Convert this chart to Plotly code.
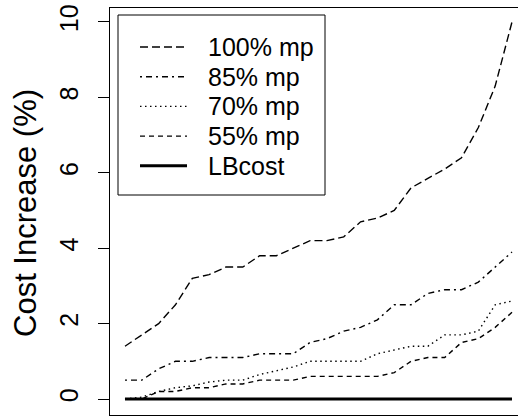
import plotly.graph_objects as go

x_index = list(range(1, 25))
mp100 = [1.4, 1.7, 2.0, 2.5, 3.2, 3.3, 3.5, 3.5, 3.8, 3.8, 4.0, 4.2, 4.2, 4.3, 4.7, 4.8, 5.0, 5.6, 5.85, 6.1, 6.4, 7.2, 8.3, 10.0]
mp85 = [0.5, 0.5, 0.8, 1.0, 1.0, 1.1, 1.1, 1.1, 1.2, 1.2, 1.2, 1.5, 1.6, 1.8, 1.9, 2.1, 2.5, 2.5, 2.8, 2.9, 2.9, 3.1, 3.5, 3.9]
mp70 = [0.0, 0.05, 0.2, 0.3, 0.35, 0.45, 0.5, 0.5, 0.65, 0.75, 0.85, 1.0, 1.0, 1.0, 1.0, 1.2, 1.3, 1.4, 1.4, 1.7, 1.7, 1.8, 2.5, 2.6]
mp55 = [0.0, 0.0, 0.2, 0.2, 0.3, 0.3, 0.4, 0.4, 0.5, 0.5, 0.5, 0.6, 0.6, 0.6, 0.6, 0.6, 0.7, 1.0, 1.1, 1.1, 1.5, 1.6, 1.9, 2.3]
lbcost = [0.0] * 24
series_names = ["100% mp", "85% mp", "70% mp", "55% mp", "LBcost"]
y_ticks = [0, 2, 4, 6, 8, 10]

series = [mp100, mp85, mp70, mp55, lbcost]
dashes = ["8px,4px", "2px,4px,6px,4px", "1.5px,3.5px", "5px,4px", "solid"]
widths = [1.4, 1.4, 1.4, 1.4, 3]

W, H = 518, 416
ML, MR, MT, MB = 110, 0, 8, 1
PW, PH = W - ML - MR, H - MT - MB


def px(xp):
    return (xp - ML) / PW


def py(yp):
    return (H - MB - yp) / PH


fig = go.Figure()
for name, ys, d, w in zip(series_names, series, dashes, widths):
    fig.add_trace(go.Scatter(x=x_index, y=ys, mode="lines", name=name,
                             line=dict(color="black", width=w, dash=d)))

font = "Liberation Sans, Arial, Helvetica, sans-serif"

# manual legend (box, line samples, labels)
shapes = [dict(type="rect", xref="paper", yref="paper",
               x0=px(118), x1=px(325), y0=py(195), y1=py(15),
               line=dict(color="black", width=1), fillcolor="white", layer="above")]
annotations = []
row0, row_step = 47, 29.7
for k, (name, d, w) in enumerate(zip(series_names, dashes, widths)):
    ry = row0 + k * row_step
    shapes.append(dict(type="line", xref="paper", yref="paper",
                       x0=px(140), x1=px(187), y0=py(ry), y1=py(ry),
                       line=dict(color="black", width=w, dash=d), layer="above"))
    annotations.append(dict(text=name, xref="paper", yref="paper",
                            x=px(206), y=py(ry), xanchor="left", yanchor="middle",
                            showarrow=False, font=dict(size=25, family=font)))

annotations.append(dict(text="Cost Increase (%)", textangle=-90, xref="paper", yref="paper",
                        x=px(25), y=py(213), xanchor="center", yanchor="middle",
                        showarrow=False, font=dict(size=31, family=font)))

fig.update_layout(
    width=W, height=H,
    margin=dict(l=ML, r=MR, t=MT, b=MB),
    plot_bgcolor="white", paper_bgcolor="white",
    font=dict(family=font, color="black"),
    showlegend=False,
    xaxis=dict(range=[0.109, 24.357], showgrid=False, zeroline=False,
               showline=True, mirror=True, linecolor="black", linewidth=1,
               showticklabels=False, ticks=""),
    yaxis=dict(range=[-0.424, 10.371], showgrid=False, zeroline=False,
               showline=True, mirror=False, linecolor="black", linewidth=1,
               tickvals=y_ticks, ticktext=[str(v) for v in y_ticks],
               ticks="outside", ticklen=11, tickcolor="black",
               tickangle=-90, tickfont=dict(size=25, family=font),
               ticklabelstandoff=10),
    shapes=shapes,
    annotations=annotations,
)
fig.write_html("out.html", config={"displayModeBar": False},
               post_script="document.body.style.margin='0';document.body.style.overflow='hidden';")
